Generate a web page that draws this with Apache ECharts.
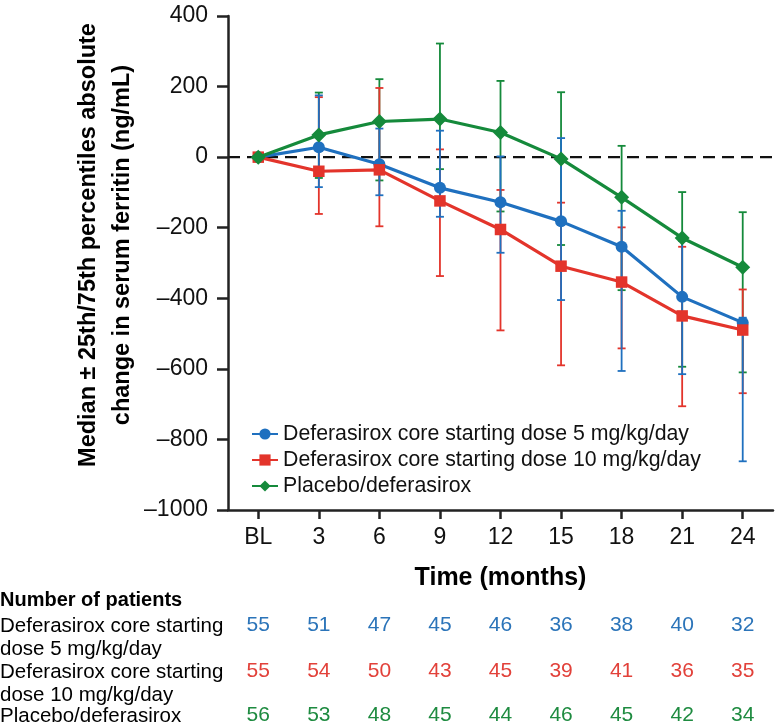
<!DOCTYPE html>
<html><head><meta charset="utf-8">
<script src="https://cdn.jsdelivr.net/npm/echarts@6/dist/echarts.min.js"></script>
<style>html,body{margin:0;padding:0;background:#fff}#c{width:776px;height:727px}</style>
</head><body><div id="c"></div>
<script>
var months = ['BL','3','6','9','12','15','18','21','24'];
var referenceLevel = [0];

var dose5Median = [0, 28, -20, -87, -128, -182, -254, -396, -469];
var dose5Q75    = [0, 175, 81, 75, 2, 54, -152, -238, -455];
var dose5Q25    = [0, -85, -108, -169, -271, -405, -606, -615, -862];

var dose10Median = [0, -40, -36, -124, -205, -309, -354, -450, -490];
var dose10Q75    = [0, 170, 196, 22, -93, -129, -199, -254, -375];
var dose10Q25    = [0, -161, -196, -337, -491, -590, -542, -706, -669];

var placeboMedian = [0, 63, 101, 108, 70, -5, -114, -229, -312];
var placeboQ75    = [0, 183, 221, 322, 216, 184, 32, -99, -156];
var placeboQ25    = [0, -59, -66, -34, -154, -249, -377, -594, -610];

var n5 = [55, 51, 47, 45, 46, 36, 38, 40, 32];
var n10 = [55, 54, 50, 43, 45, 39, 41, 36, 35];
var nPlacebo = [56, 53, 48, 45, 44, 46, 45, 42, 34];

var names = ['Deferasirox core starting dose 5 mg/kg/day','Deferasirox core starting dose 10 mg/kg/day','Placebo/deferasirox'];
var rowLabels = ['Deferasirox core starting\ndose 5 mg/kg/day','Deferasirox core starting\ndose 10 mg/kg/day','Placebo/deferasirox'];
var yTitle = 'Median \u00b1 25th/75th percentiles absolute\nchange in serum ferritin (ng/mL)';

var BLUE = '#1f70bf', RED = '#e3342b', GREEN = '#158a3b';
var NBLUE = '#2b74b9', NRED = '#e2413a', NGREEN = '#1e8b40';
var FONT = '"Liberation Sans", Arial, Helvetica, sans-serif';

function errData(lo, hi){ return months.map(function(m,i){ return [i, lo[i], hi[i]]; }); }
function errSeries(lo, hi, color){
  return {
    type: 'custom', z: 1, silent: true,
    data: errData(lo, hi),
    encode: {x: 0, y: [1, 2]},
    renderItem: function(params, api){
      var x = api.value(0), l = api.value(1), h = api.value(2);
      if (l === h) return null;
      var p1 = api.coord([x, l]), p2 = api.coord([x, h]);
      var w = 4;
      var st = {stroke: color, lineWidth: 1.8};
      return {type: 'group', children: [
        {type: 'line', shape: {x1: p1[0], y1: p1[1], x2: p2[0], y2: p2[1]}, style: st},
        {type: 'line', shape: {x1: p1[0]-w, y1: p1[1], x2: p1[0]+w, y2: p1[1]}, style: st},
        {type: 'line', shape: {x1: p2[0]-w, y1: p2[1], x2: p2[0]+w, y2: p2[1]}, style: st}
      ]};
    }
  };
}
function countAxis(arr, color, off){
  return {
    type: 'category', data: months, position: 'bottom', offset: off, gridIndex: 0,
    axisLine: {show: false, onZero: false}, axisTick: {show: false}, boundaryGap: true,
    axisLabel: {interval: 0, margin: 0, color: color, fontSize: 21, lineHeight: 23, fontFamily: FONT,
      formatter: function(v, i){ return String(arr[i]); }}
  };
}

var chart = echarts.init(document.getElementById('c'), null, {renderer: 'canvas'});
chart.setOption({
  animation: false,
  textStyle: {fontFamily: FONT},
  grid: {left: 228, right: 3, top: 16, bottom: 216, containLabel: false},
  legend: {
    orient: 'vertical', left: 246, top: 416, itemGap: 0, itemWidth: 26, itemHeight: 14,
    textStyle: {fontSize: 21.3, color: '#111', lineHeight: 26, fontFamily: FONT},
    data: names
  },
  xAxis: [
    {
      type: 'category', data: months, boundaryGap: true, position: 'bottom', offset: 0,
      axisLine: {show: true, onZero: false, lineStyle: {color: '#222', width: 2.5}},
      axisTick: {show: true, alignWithLabel: true, length: 9, lineStyle: {color: '#222', width: 2.5}},
      axisLabel: {interval: 0, margin: 16, fontSize: 23, color: '#111', fontFamily: FONT},
      name: 'Time (months)', nameLocation: 'middle', nameGap: 56,
      nameTextStyle: {fontSize: 25, fontWeight: 'bold', color: '#000', fontFamily: FONT}
    },
    countAxis(n5, NBLUE, 104),
    countAxis(n10, NRED, 150),
    countAxis(nPlacebo, NGREEN, 194)
  ],
  yAxis: {
    type: 'value', min: -1000, max: 400, interval: 200,
    splitLine: {show: false},
    axisLine: {show: true, onZero: false, lineStyle: {color: '#222', width: 2.5}},
    axisTick: {show: true, length: 11, lineStyle: {color: '#222', width: 2.5}},
    axisLabel: {margin: 20, fontSize: 23, color: '#111', fontFamily: FONT,
      formatter: function(v){ return v < 0 ? '\u2013' + Math.abs(v) : String(v); }}
  },
  series: [
    {
      type: 'custom', z: 0, silent: true,
      data: referenceLevel.map(function(v){ return [0, v]; }),
      encode: {x: 0, y: 1},
      renderItem: function(params, api){
        var cs = params.coordSys;
        var y = api.coord([api.value(0), api.value(1)])[1];
        return {type: 'line', shape: {x1: cs.x, y1: y, x2: cs.x + cs.width, y2: y},
          style: {stroke: '#111', lineWidth: 2.2, lineDash: [12, 7]}};
      }
    },
    errSeries(placeboQ25, placeboQ75, GREEN),
    errSeries(dose10Q25, dose10Q75, RED),
    errSeries(dose5Q25, dose5Q75, BLUE),
    {
      name: names[0], type: 'line', data: dose5Median, z: 3,
      symbol: 'circle', symbolSize: 12, color: BLUE,
      lineStyle: {width: 3.2, color: BLUE}, itemStyle: {color: BLUE}
    },
    {
      name: names[1], type: 'line', data: dose10Median, z: 4,
      symbol: 'rect', symbolSize: 11.5, color: RED,
      lineStyle: {width: 3.2, color: RED}, itemStyle: {color: RED}
    },
    {
      name: names[2], type: 'line', data: placeboMedian, z: 5,
      symbol: 'diamond', symbolSize: 15, color: GREEN,
      lineStyle: {width: 3.2, color: GREEN}, itemStyle: {color: GREEN}
    }
  ],
  graphic: [
    {type: 'text', x: 106, y: 245, rotation: Math.PI / 2,
      style: {text: yTitle, font: 'bold 23.5px ' + FONT, lineHeight: 34, fill: '#000', align: 'center', verticalAlign: 'middle'}},
    {type: 'text', left: 0, top: 590, style: {text: 'Number of patients', font: 'bold 20px ' + FONT, fill: '#000'}},
    {type: 'text', left: 0, top: 615, style: {text: rowLabels[0], font: '20.5px ' + FONT, lineHeight: 23, fill: '#000'}},
    {type: 'text', left: 0, top: 661, style: {text: rowLabels[1], font: '20.5px ' + FONT, lineHeight: 23, fill: '#000'}},
    {type: 'text', left: 0, top: 705, style: {text: rowLabels[2], font: '20.5px ' + FONT, lineHeight: 23, fill: '#000'}}
  ]
});
</script></body></html>
